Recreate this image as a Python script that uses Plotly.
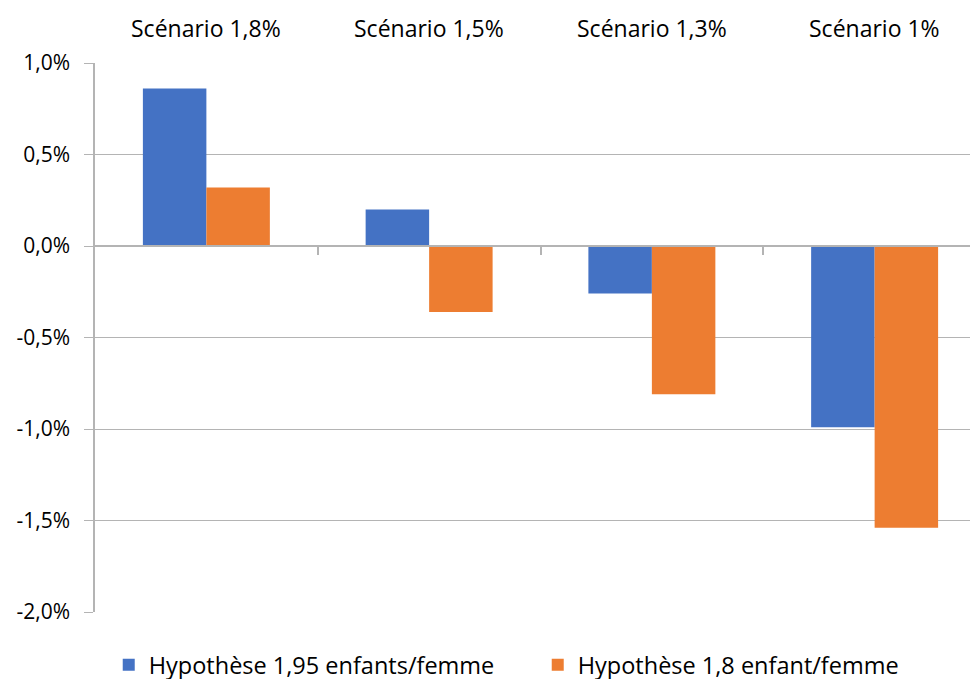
import plotly.graph_objects as go

scenarios = ["Scénario 1,8%", "Scénario 1,5%", "Scénario 1,3%", "Scénario 1%"]
hyp_195 = [0.86, 0.20, -0.26, -0.99]
hyp_18 = [0.32, -0.36, -0.81, -1.54]
names = ["Hypothèse 1,95 enfants/femme", "Hypothèse 1,8 enfant/femme"]
colors = ["#4472C4", "#ED7D31"]
y_ticks = [-2, -1.5, -1, -0.5, 0, 0.5, 1]
y_labels = ["-2,0%", "-1,5%", "-1,0%", "-0,5%", "0,0%", "0,5%", "1,0%"]

font = "Open Sans"
grey = "#b4b4b4"
pos = list(range(len(scenarios)))

fig = go.Figure()
for vals, name, col in zip([hyp_195, hyp_18], names, colors):
    fig.add_trace(go.Bar(x=pos, y=vals, name=name, marker_color=col,
                         marker_line_width=0))

# scenario labels above the plot
for i, s in enumerate(scenarios):
    fig.add_annotation(x=i, y=1, xref="x", yref="paper", text=s,
                       showarrow=False, yanchor="middle", yshift=35,
                       font=dict(size=23, color="#000000", family=font))

# page has an 8px body margin, so everything is shifted up/left by 8px
fig.update_layout(
    width=978, height=679,
    margin=dict(l=87, r=0, t=55, b=75, autoexpand=False),
    plot_bgcolor="white", paper_bgcolor="white",
    barmode="group", bargap=0.43, bargroupgap=0,
    font=dict(family=font, size=21, color="#000000"),
    legend=dict(orientation="h", xref="container", yref="container",
                x=0.103, xanchor="left", y=0.0324, yanchor="middle",
                entrywidth=384, entrywidthmode="pixels",
                font=dict(size=23.5, family=font)),
    xaxis=dict(range=[-0.5, 3.5], tickvals=[0.5, 1.5, 2.5], ticktext=["", "", ""],
               showline=True, linecolor=grey, linewidth=1.5,
               ticks="outside", ticklen=8, tickcolor=grey, tickwidth=1.5,
               anchor="free", position=2/3, showgrid=False, zeroline=False),
    yaxis=dict(range=[-2, 1], tickvals=y_ticks, ticktext=y_labels,
               showgrid=True, gridcolor=grey, gridwidth=1,
               showline=True, linecolor=grey, linewidth=1.5,
               ticks="outside", ticklen=9, tickcolor=grey,
               ticklabelstandoff=10, zeroline=False),
)

fig.write_html("out.html")
